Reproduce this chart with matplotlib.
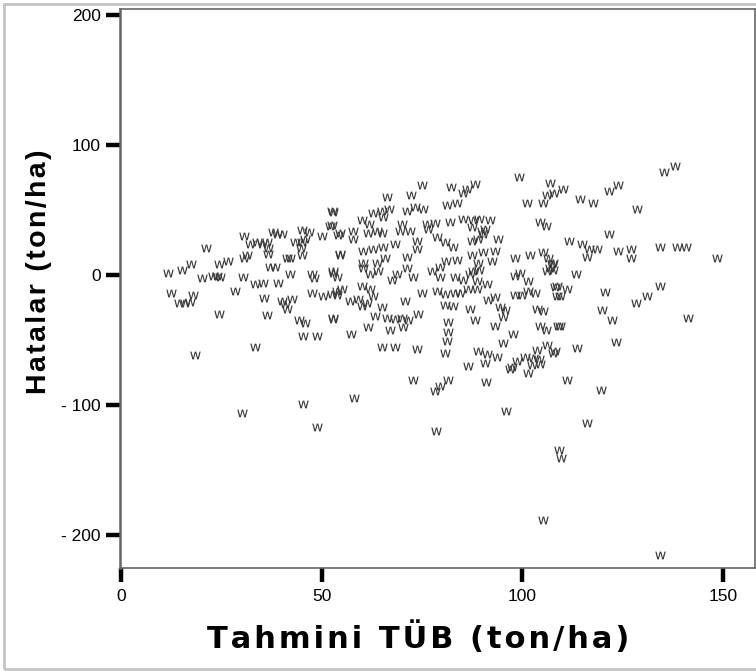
import matplotlib
matplotlib.use("Agg")
import matplotlib.pyplot as plt
from matplotlib.patches import Rectangle
from matplotlib.ticker import FuncFormatter

# predicted values (x) and residuals (y)
tahmini = [
    11.7, 15.2, 17.4, 21.2, 20.2, 22.9, 23.9, 24.7, 24.4, 26.7, 12.5, 17.9, 14.5, 15.9, 17.2, 24.4, 18.4,
    30.7, 32.1, 33.9, 35.1, 36.4, 37.9, 38.9, 40.1, 36.6, 36.6, 45.1, 46.8, 50.1, 52.1, 54.1, 52.6,
    43.4, 45.1, 45.9, 44.9, 45.1, 41.4, 42.1, 30.7, 31.4, 37.1, 38.4, 42.1, 47.6, 48.1, 52.8, 53.8,
    30.4, 33.4, 35.4, 39.1, 28.4, 35.6, 40.1, 40.9, 42.6, 41.4, 47.6, 50.3, 52.6, 53.8, 36.4, 44.4,
    45.9, 52.8, 54.6, 45.4, 48.8, 33.4,
    52.8, 62.8, 65.0, 66.8, 65.3, 66.3, 72.3, 75.0, 71.3, 73.3, 75.3, 60.1, 61.8, 52.6, 54.6, 57.8,
    57.8, 61.6, 63.8, 65.0, 70.0, 69.5, 72.0, 76.3, 76.5, 78.2, 82.0, 78.7, 80.7, 73.8, 73.8, 60.3,
    62.8, 65.3, 68.3, 54.6, 71.3, 60.3, 60.3, 63.8, 65.8, 81.0, 52.8, 62.0, 64.0, 67.5, 68.8, 71.3,
    72.8, 77.5, 79.5, 79.5, 53.8, 55.1, 60.1, 62.0, 62.8, 57.1, 59.1, 60.1, 61.3, 65.0, 70.8, 75.0,
    78.7, 80.7, 80.7, 52.8, 63.3, 66.3, 68.3, 70.0, 71.5, 74.0, 61.6, 67.0, 70.3, 57.3, 65.0, 68.3,
    73.8, 80.7, 81.5, 81.5, 81.2,
    99.2, 106.9, 106.2, 107.9, 82.2, 85.2, 86.2, 88.2, 81.2, 83.7, 101.2, 105.2, 85.2, 87.7, 89.2,
    92.0, 87.5, 90.0, 90.7, 104.4, 105.9, 82.7, 87.5, 89.0, 90.2, 94.0, 83.7, 87.5, 90.2, 93.2, 89.0,
    92.5, 98.2, 101.9, 105.2, 106.4, 107.4, 83.2, 85.2, 87.0, 87.7, 89.2, 88.7, 91.2, 83.2, 84.5,
    86.5, 88.7, 82.7, 87.0, 91.5, 93.2, 98.2, 99.4, 101.4, 98.2, 99.9, 101.4, 103.2, 106.2, 106.9,
    108.2, 108.7, 94.4, 95.7, 103.7, 105.2, 88.2, 93.2, 95.2, 97.7, 95.2, 104.4, 105.9, 108.9, 89.0,
    91.2, 93.7, 90.7, 86.5, 98.7, 100.7, 102.7, 104.2, 103.7, 106.2, 107.7, 97.4, 104.4,
    135.3, 138.1, 121.6, 123.9, 114.4, 117.6, 128.6, 110.1, 121.6, 111.6, 114.9, 116.6, 118.6, 123.9,
    127.1, 134.3, 138.6, 140.8, 116.1, 127.1, 148.5, 107.7, 107.7, 113.4, 108.7, 111.1, 109.4, 120.6,
    134.3, 128.3, 131.1, 119.9, 122.4, 141.3, 109.4, 123.4, 113.6, 108.2,
    30.2, 45.4, 48.8, 58.1, 72.8, 78.2, 78.5, 79.5, 81.5, 91.0, 111.1, 119.6, 95.9, 116.1, 109.1,
    109.6, 105.2, 134.3, 96.9, 101.4, 102.4,
]
hatalar = [
    1.9, 4.2, 8.1, 21.1, -2.7, -0.4, -0.4, -1.2, 8.1, 11.1, -14.2, -15.7, -21.9, -21.9, -21.1, -30.3, -61.8,
    30.3, 24.2, 25.0, 24.2, 25.7, 33.4, 31.9, 31.9, 21.1, 16.5, 34.9, 33.4, 30.3, 38.0, 31.1, 49.5,
    25.7, 25.7, 27.3, 21.1, 15.0, 13.4, 13.4, 13.4, 15.7, 6.5, 5.8, 0.4, 0.4, -2.7, 2.7, -1.2,
    -1.9, -7.3, -6.5, -6.5, -12.7, -18.0, -20.3, -22.6, -18.8, -26.5, -14.2, -16.5, -15.0, -12.7, -31.1, -34.9,
    -37.2, -34.2, 16.5, -47.2, -47.2, -55.7,
    48.8, 48.0, 49.5, 51.1, 44.9, 60.3, 61.8, 69.5, 49.5, 52.6, 51.1, 42.6, 39.5, 38.8, 32.6, 34.2,
    27.3, 32.6, 34.2, 32.6, 39.5, 34.2, 34.2, 39.5, 35.7, 40.3, 41.1, 29.6, 25.7, 26.5, 20.3, 18.8,
    20.3, 21.9, 24.2, 15.7, 14.2, 9.6, 5.0, 9.6, 12.7, 10.4, 1.9, 0.4, 2.7, -3.5, 0.4, 5.0,
    -1.9, 2.7, 5.8, -1.9, -15.7, -11.1, -8.1, -11.1, -16.5, -20.3, -18.8, -24.2, -21.9, -25.0, -20.3, -14.2,
    -12.7, -15.0, -23.4, -33.4, -31.9, -33.4, -34.2, -33.4, -35.0, -30.3, -40.3, -42.6, -40.3, -45.7, -55.7, -55.7,
    -57.2, -60.3, -36.5, -44.1, -51.1,
    75.6, 71.0, 61.8, 63.3, 67.9, 63.3, 66.4, 70.3, 54.1, 55.7, 55.7, 55.7, 43.4, 42.6, 43.4,
    42.6, 37.2, 34.2, 35.7, 41.1, 38.0, 21.9, 26.5, 28.0, 31.9, 27.3, 11.9, 15.7, 17.3, 18.8, 9.6,
    10.4, 12.7, 15.7, 18.0, 12.7, 8.1, -1.9, -4.2, 0.4, 2.7, 3.5, -5.0, -7.3, -14.2, -14.2,
    -11.1, -10.4, -24.2, -26.5, -19.6, -17.3, -0.4, 1.9, -5.0, -15.7, -15.7, -12.7, -14.2, 2.7, 5.0,
    -9.6, -16.5, -25.0, -27.3, -26.5, -28.0, -34.9, -39.5, -32.6, -45.7, -52.6, -39.5, -42.6, -39.5, -58.7,
    -61.0, -63.3, -67.9, -70.3, -66.4, -63.3, -64.1, -64.9, -58.0, -54.1, -60.3, -71.0, -68.7,
    79.5, 84.1, 64.9, 69.5, 58.7, 55.7, 51.1, 66.4, 31.9, 26.5, 24.2, 20.3, 20.3, 18.8,
    20.3, 21.9, 21.9, 21.9, 14.2, 12.7, 12.7, 9.6, 4.2, 0.4, -8.8, -10.4, -16.5, -13.4,
    -8.1, -21.9, -16.5, -27.3, -34.9, -33.4, -39.5, -51.8, -56.4, -58.7,
    -106.3, -99.4, -117.1, -94.8, -81.0, -89.4, -120.2, -85.6, -81.0, -82.5, -81.0, -88.7, -104.8, -114.0, -134.7,
    -140.9, -188.5, -215.4, -72.6, -75.6, -69.5,
]

x_ticks = [0, 50, 100, 150]
y_ticks = [-200, -100, 0, 100, 200]
x_title = "Tahmini TÜB (ton/ha)"
y_title = "Hatalar (ton/ha)"


def y_label_fmt(v, pos):
    v = int(round(v))
    return "- %d" % -v if v < 0 else "%d" % v


def spaced(s, gap):
    # crude letter spacing: put a narrow space between characters
    return gap.join(s)


fig = plt.figure(figsize=(7.56, 6.71), dpi=100)
fig.patch.set_facecolor("white")
# light grey outer frame of the chart window
fig.patches.append(Rectangle((4 / 756, 2 / 671), 760 / 756, 665 / 671, transform=fig.transFigure,
                             fill=False, edgecolor="#c4c4c4", linewidth=2))

ax = fig.add_axes([120 / 756, (671 - 568) / 671, 635 / 756, 559 / 671])
ax.plot(tahmini, hatalar, linestyle="none", marker=r"$\mathsf{w}$", markersize=7.5,
        color="#3a3a3a", markeredgewidth=0)

ax.set_xlim(-0.25, 158.0)
ax.set_ylim(-225.4, 204.6)
ax.set_xticks(x_ticks)
ax.set_yticks(y_ticks)
ax.yaxis.set_major_formatter(FuncFormatter(y_label_fmt))
ax.tick_params(axis="both", direction="out", length=10, width=3.2, color="black",
               labelsize=12.5, labelcolor="black")
ax.tick_params(axis="x", pad=5)
ax.tick_params(axis="y", pad=4)
for lab in ax.get_xticklabels() + ax.get_yticklabels():
    lab.set_family("Liberation Sans")
for side in ["top", "right", "bottom", "left"]:
    ax.spines[side].set_color("#666666")
    ax.spines[side].set_linewidth(1.2)
ax.spines["left"].set_linewidth(1.8)

ax.set_ylabel(spaced(y_title, "\u200a"), family=["Liberation Sans", "DejaVu Sans"],
              fontweight="bold", fontsize=20.5)
ax.yaxis.set_label_coords(-68 / 635, (568 - 272) / 559)
ax.set_xlabel(spaced(x_title, "\u200a"), family="DejaVu Sans", fontweight="bold", fontsize=22)
ax.xaxis.set_label_coords((418 - 120) / 635, -(621 - 568) / 559)

fig.savefig("out.png", dpi=100)
